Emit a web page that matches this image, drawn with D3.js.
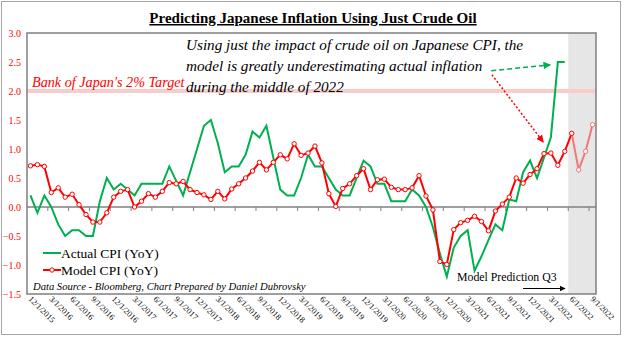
<!DOCTYPE html>
<html>
<head>
<meta charset="utf-8">
<script src="https://cdn.jsdelivr.net/npm/d3@7"></script>
<style>
  body { margin: 0; background: #fff; }
  svg text { font-family: "Liberation Serif", "Times New Roman", serif; }
</style>
</head>
<body>
<div id="chart"></div>
<script>
// monthly categories, Dec 2015 .. Sep 2022
var months = d3.utcMonth.range(new Date(Date.UTC(2015, 11, 1)), new Date(Date.UTC(2022, 9, 1)));

// quarterly axis labels (one every 3 months)
var tickLabels = ["12/1/2015","3/1/2016","6/1/2016","9/1/2016","12/1/2016","3/1/2017","6/1/2017",
    "9/1/2017","12/1/2017","3/1/2018","6/1/2018","9/1/2018","12/1/2018","3/1/2019","6/1/2019",
    "9/1/2019","12/1/2019","3/1/2020","6/1/2020","9/1/2020","12/1/2020","3/1/2021","6/1/2021",
    "9/1/2021","12/1/2021","3/1/2022","6/1/2022","9/1/2022"];

var yTicks = [-1.5, -1.0, -0.5, 0.0, 0.5, 1.0, 1.5, 2.0, 2.5, 3.0];

// Actual CPI (YoY), Dec 2015 .. May 2022
var actualCPI = [0.2, -0.1, 0.2, 0.0, -0.3, -0.5, -0.4, -0.4, -0.5, -0.5,
    0.1, 0.5, 0.3, 0.4, 0.3, 0.2, 0.4, 0.4, 0.4, 0.4,
    0.7, 0.45, 0.2, 0.6, 1.0, 1.4, 1.5, 1.1, 0.6, 0.7,
    0.7, 0.9, 1.3, 1.2, 1.4, 0.85, 0.3, 0.2, 0.2, 0.5,
    0.9, 0.7, 0.7, 0.5, 0.3, 0.2, 0.2, 0.5, 0.8, 0.7,
    0.4, 0.4, 0.1, 0.1, 0.1, 0.3, 0.2, 0.0, -0.35, -0.8,
    -1.2, -0.7, -0.5, -0.4, -1.1, -0.85, -0.57, -0.3, -0.4, 0.13,
    0.1, 0.6, 0.8, 0.5, 0.85, 1.2, 2.5, 2.5];

// Model CPI (YoY), Dec 2015 .. Sep 2022 (last four months are the prediction)
var modelCPI = [0.71, 0.73, 0.70, 0.25, 0.33, 0.17, 0.22, 0.04, -0.13, -0.26,
    -0.26, -0.10, 0.17, 0.27, 0.30, 0.00, 0.10, 0.23, 0.17, 0.27,
    0.42, 0.40, 0.44, 0.30, 0.25, 0.21, 0.13, 0.27, 0.14, 0.31,
    0.40, 0.50, 0.62, 0.77, 0.64, 0.77, 0.90, 0.83, 1.09, 0.89,
    0.93, 1.05, 0.76, 0.23, 0.01, 0.32, 0.40, 0.54, 0.66, 0.30,
    0.47, 0.48, 0.34, 0.30, 0.30, 0.33, 0.54, 0.19, -0.05, -0.94,
    -0.99, -0.39, -0.27, -0.23, -0.16, -0.25, -0.41, -0.07, 0.05, 0.17,
    0.50, 0.41, 0.56, 0.66, 0.92, 0.93, 0.72, 0.96, 1.27, 0.64,
    0.96, 1.42];

var predictionStart = 78; // first month of the shaded forecast window
var bojTarget = 2.0;

/**
 * Constructor for the CPI chart
 */
function CPIChart(){
    var self = this;
    self.init();
    self.update();
};

/**
 * Sets up svg, scales and static text
 */
CPIChart.prototype.init = function(){
    var self = this;
    self.width = 624;
    self.height = 338;
    self.plot = {left: 27, right: 596, top: 33, bottom: 294};

    self.svg = d3.select("#chart").append("svg")
        .attr("width", self.width)
        .attr("height", self.height);

    self.x = d3.scaleBand()
        .domain(months)
        .range([self.plot.left, self.plot.right]);
    self.y = d3.scaleLinear()
        .domain([-1.5, 3])
        .range([self.plot.bottom, self.plot.top]);

    //outer border
    self.svg.append("rect")
        .attr("x", 1.5).attr("y", 1.5)
        .attr("width", 619).attr("height", 333)
        .attr("fill", "none")
        .attr("stroke", "#a6a6a6");

    self.svg.append("text")
        .attr("x", 313)
        .attr("y", 23)
        .style("text-anchor", "middle")
        .style("font-size", "15px")
        .style("font-weight", "bold")
        .style("text-decoration", "underline")
        .text("Predicting Japanese Inflation Using Just Crude Oil");
};

CPIChart.prototype.cx = function(i){
    var self = this;
    return self.x(months[i]) + self.x.bandwidth() / 2;
};

/**
 * Draws lines, axes and annotations
 */
CPIChart.prototype.update = function(){
    var self = this;
    var x = self.x, y = self.y, p = self.plot;
    var green = "#00B050", red = "#FF0000", lightRed = "#F47676";

    //shaded prediction window
    self.svg.append("rect")
        .attr("x", x(months[predictionStart]))
        .attr("y", p.top)
        .attr("width", p.right - x(months[predictionStart]))
        .attr("height", p.bottom - p.top)
        .attr("fill", "#e6e6e6");

    //BoJ 2% target band
    self.svg.append("line")
        .attr("x1", p.left).attr("x2", p.right)
        .attr("y1", y(bojTarget)).attr("y2", y(bojTarget))
        .attr("stroke", "#f9cccc")
        .attr("stroke-width", 4);
    self.svg.append("text")
        .attr("x", 32).attr("y", y(bojTarget) - 4)
        .style("font-size", "14.2px")
        .style("font-style", "italic")
        .attr("fill", red)
        .text("Bank of Japan's 2% Target");

    //y axis labels
    var yAxis = d3.axisLeft(y).tickValues(yTicks).tickFormat(d3.format(".1f")).tickSize(0).tickPadding(6);
    var gy = self.svg.append("g")
        .attr("transform", "translate(" + p.left + ",0)")
        .call(yAxis);
    gy.select(".domain").remove();
    gy.selectAll("text")
        .attr("fill", red)
        .style("font-size", "10px")
        .style("font-family", "Liberation Serif, serif");

    //zero line with quarterly ticks
    self.svg.append("line")
        .attr("x1", p.left).attr("x2", p.right)
        .attr("y1", y(0)).attr("y2", y(0))
        .attr("stroke", "#808080")
        .attr("stroke-width", 1.5);
    self.svg.append("g").selectAll("line")
        .data(d3.range(3, months.length, 3))
        .join("line")
        .attr("x1", function(k){ return x(months[k]); })
        .attr("x2", function(k){ return x(months[k]); })
        .attr("y1", y(0)).attr("y2", y(0) + 4)
        .attr("stroke", "#808080");

    //rotated date labels under the plot
    self.svg.append("g").selectAll("text")
        .data(tickLabels)
        .join("text")
        .attr("transform", function(d, j){
            return "translate(" + (self.cx(j * 3) - 1) + "," + (p.bottom + 4) + ") rotate(45)";
        })
        .attr("dy", "0.25em")
        .style("font-size", "8.3px")
        .text(function(d){ return d; });

    //actual CPI line
    var line = d3.line()
        .x(function(d){ return self.cx(d.i); })
        .y(function(d){ return y(d.v); });
    var actual = actualCPI.map(function(v, i){ return {i: i, v: v}; });
    var model = modelCPI.map(function(v, i){ return {i: i, v: v}; });

    self.svg.append("path")
        .datum(actual)
        .attr("d", line)
        .attr("fill", "none")
        .attr("stroke", green)
        .attr("stroke-width", 2);

    //model line, lighter in the forecast window
    self.svg.append("path")
        .datum(model.slice(0, predictionStart + 1))
        .attr("d", line)
        .attr("fill", "none")
        .attr("stroke", red)
        .attr("stroke-width", 2);
    self.svg.append("path")
        .datum(model.slice(predictionStart))
        .attr("d", line)
        .attr("fill", "none")
        .attr("stroke", lightRed)
        .attr("stroke-width", 2);
    self.svg.append("g").selectAll("circle")
        .data(model)
        .join("circle")
        .attr("cx", function(d){ return self.cx(d.i); })
        .attr("cy", function(d){ return y(d.v); })
        .attr("r", 2.2)
        .attr("fill", "#fff")
        .attr("stroke", function(d){ return d.i > predictionStart ? lightRed : red; })
        .attr("stroke-width", 1);

    //plot frame
    self.svg.append("rect")
        .attr("x", p.left).attr("y", p.top)
        .attr("width", p.right - p.left).attr("height", p.bottom - p.top)
        .attr("fill", "none")
        .attr("stroke", "#7f7f7f")
        .attr("stroke-width", 1.5);

    //annotation text
    var note = ["Using just the impact of crude oil on Japanese CPI, the",
        "model is greatly underestimating actual inflation",
        "during the middle of 2022"];
    self.svg.append("text")
        .attr("x", 186).attr("y", 50)
        .style("font-size", "15.2px")
        .style("font-style", "italic")
        .selectAll("tspan")
        .data(note)
        .join("tspan")
        .attr("x", 186)
        .attr("dy", function(d, i){ return i == 0 ? 0 : 21; })
        .text(function(d){ return d; });

    //arrow heads
    var defs = self.svg.append("defs");
    [["arrGreen", green], ["arrRed", red], ["arrBlack", "#000"]].forEach(function(a){
        defs.append("marker")
            .attr("id", a[0])
            .attr("viewBox", "0 0 10 10")
            .attr("refX", 9).attr("refY", 5)
            .attr("markerWidth", 5).attr("markerHeight", 5)
            .attr("orient", "auto")
            .append("path")
            .attr("d", "M0,0L10,5L0,10z")
            .attr("fill", a[1]);
    });

    var xi = function(i){ return p.left + (i + 0.5) * x.bandwidth(); };
    self.svg.append("line")
        .attr("x1", xi(66.4)).attr("y1", y(2.35))
        .attr("x2", xi(74.9)).attr("y2", y(2.45))
        .attr("stroke", green)
        .attr("stroke-width", 1.5)
        .attr("stroke-dasharray", "5,3")
        .attr("marker-end", "url(#arrGreen)");
    self.svg.append("line")
        .attr("x1", xi(66.5)).attr("y1", y(2.28))
        .attr("x2", xi(73.9)).attr("y2", y(1.12))
        .attr("stroke", red)
        .attr("stroke-width", 1.5)
        .attr("stroke-dasharray", "2,2")
        .attr("marker-end", "url(#arrRed)");

    //model prediction note
    self.svg.append("text")
        .attr("x", 457).attr("y", 281)
        .style("font-size", "11.8px")
        .text("Model Prediction Q3");
    self.svg.append("line")
        .attr("x1", 523).attr("x2", 565)
        .attr("y1", 288.5).attr("y2", 288.5)
        .attr("stroke", "#000")
        .attr("stroke-width", 1.2)
        .attr("marker-end", "url(#arrBlack)");

    //legend
    var legend = self.svg.append("g");
    legend.append("line")
        .attr("x1", 43).attr("x2", 61).attr("y1", 253).attr("y2", 253)
        .attr("stroke", green).attr("stroke-width", 2);
    legend.append("text")
        .attr("x", 61).attr("y", 257.5)
        .style("font-size", "13.5px")
        .text("Actual CPI (YoY)");
    legend.append("line")
        .attr("x1", 43).attr("x2", 61).attr("y1", 270).attr("y2", 270)
        .attr("stroke", red).attr("stroke-width", 2);
    legend.append("circle")
        .attr("cx", 52).attr("cy", 270).attr("r", 2.2)
        .attr("fill", "#fff").attr("stroke", red);
    legend.append("text")
        .attr("x", 61).attr("y", 274.5)
        .style("font-size", "13.5px")
        .text("Model CPI (YoY)");

    self.svg.append("text")
        .attr("x", 33).attr("y", 290)
        .style("font-size", "10.6px")
        .style("font-style", "italic")
        .text("Data Source - Bloomberg, Chart Prepared by Daniel Dubrovsky");
};

new CPIChart();
</script>
</body>
</html>
